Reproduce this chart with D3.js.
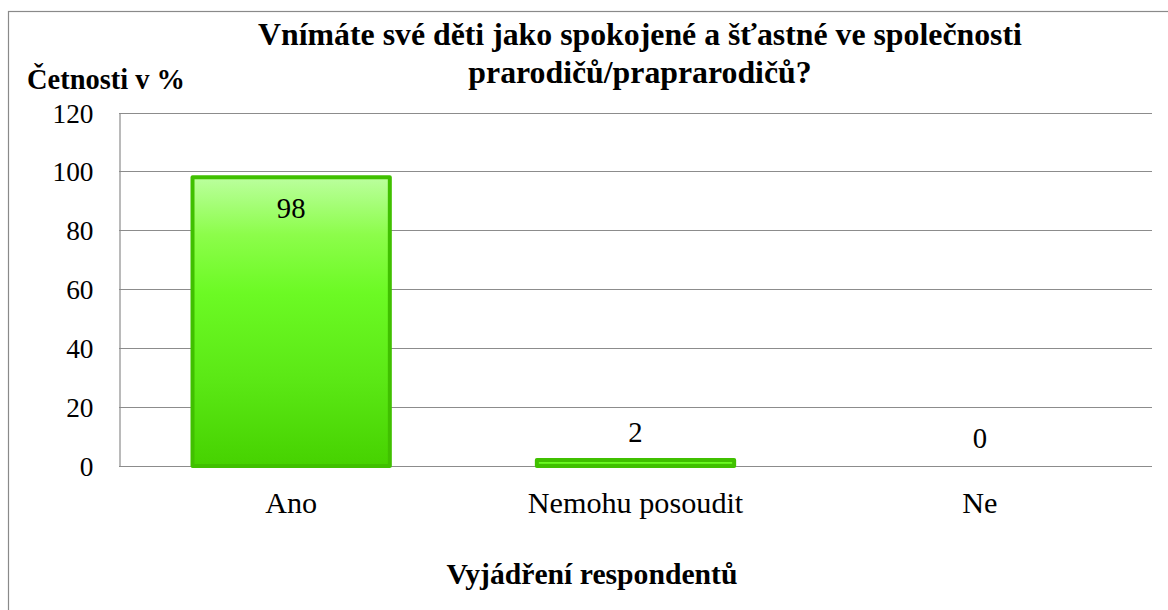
<!DOCTYPE html>
<html><head><meta charset="utf-8">
<script src="https://cdn.jsdelivr.net/npm/d3@7"></script>
<style>
body { margin: 0; }
svg text { font-family: "Liberation Serif", "Times New Roman", serif !important; }
</style>
</head><body>
<script>
const categories = ["Ano", "Nemohu posoudit", "Ne"];
const values = [98, 2, 0];
const yTicks = [0, 20, 40, 60, 80, 100, 120];
const titleLines = ["Vnímáte své děti jako spokojené a šťastné ve společnosti", "prarodičů/praprarodičů?"];
const yTitle = "Četnosti v %";
const xTitle = "Vyjádření respondentů";

const W = 1168, H = 610;
const FF = "Liberation Serif, Times New Roman, serif";
const svg = d3.select("body").append("svg").attr("width", W).attr("height", H).attr("font-family", FF);

function serif(sel) { return sel.attr("font-family", FF).style("font-family", FF, "important"); }

function fit(sel, base, targetW) {
  sel.style("font-size", base + "px");
  const w = sel.node().getComputedTextLength();
  const s = w > 0 ? base * targetW / w : base;
  sel.style("font-size", s.toFixed(2) + "px");
  return s;
}

const defs = svg.append("defs");
const grad = defs.append("linearGradient").attr("id", "barGrad").attr("x1", 0).attr("y1", 0).attr("x2", 0).attr("y2", 1);
[[0, "#bbff9e"], [0.2, "#8cfd4a"], [0.4, "#6cfa24"], [0.7, "#5be815"], [1, "#46d200"]]
  .forEach(([o, c]) => grad.append("stop").attr("offset", o).attr("stop-color", c));

svg.append("rect").attr("x", 8.5).attr("y", 11.5).attr("width", 1180).attr("height", 620)
  .attr("fill", "#fff").attr("stroke", "#8a8a8a").attr("stroke-width", 1.2);

const pLeft = 119, pRight = 1152, pTop = 112.5, pBottom = 466;
const xs = d3.scaleBand().domain(categories).range([pLeft, pRight]).padding(0);
const ys = d3.scaleLinear().domain([0, 120]).range([pBottom, pTop]);

svg.append("g").selectAll("line").data(yTicks).join("line")
  .attr("x1", pLeft).attr("x2", pRight)
  .attr("y1", d => Math.round(ys(d)) + 0.5).attr("y2", d => Math.round(ys(d)) + 0.5)
  .attr("stroke", "#8c8c8c").attr("stroke-width", 1.2);

const ga = svg.append("g").attr("transform", `translate(${pLeft + 0.5},0)`)
  .call(d3.axisLeft(ys).tickValues(yTicks).tickSize(0).tickPadding(26));
ga.attr("font-family", FF);
ga.select(".domain").attr("stroke", "#8c8c8c").attr("stroke-width", 1.2);
const tickTexts = serif(ga.selectAll("text")).attr("fill", "#000").attr("dy", "0.35em");
const tickSize = fit(tickTexts.filter(d => d === 120), 27, 41);
tickTexts.style("font-size", tickSize.toFixed(2) + "px");

const data = values.map((v, i) => ({ c: categories[i], v }));
const bw = xs.bandwidth() * 0.573;
svg.append("g").selectAll("rect").data(data).join("rect")
  .attr("x", d => xs(d.c) + (xs.bandwidth() - bw) / 2)
  .attr("y", d => ys(d.v))
  .attr("width", bw)
  .attr("height", d => ys(0) - ys(d.v))
  .attr("fill", "url(#barGrad)")
  .attr("stroke", d => d.v > 0 ? "#40c000" : "none")
  .attr("stroke-width", 4)
  .attr("stroke-linejoin", "round");

serif(svg.append("g").selectAll("text").data(data).join("text"))
  .attr("x", d => xs(d.c) + xs.bandwidth() / 2)
  .attr("y", d => d.v > 50 ? ys(d.v) + 41 : ys(d.v) - 18)
  .attr("text-anchor", "middle").style("font-size", (tickSize * 1.05).toFixed(2) + "px").attr("fill", "#000")
  .text(d => d.v);

const gx = svg.append("g").attr("transform", `translate(0,${pBottom})`)
  .call(d3.axisBottom(xs).tickSize(0).tickPadding(0));
gx.attr("font-family", FF);
gx.select(".domain").remove();
const catTexts = serif(gx.selectAll("text")).attr("fill", "#000").attr("dy", null).attr("y", 47);
const catSize = fit(catTexts.filter(d => d === "Ano"), 29, 52);
catTexts.style("font-size", catSize.toFixed(2) + "px");

const tl = serif(svg.append("g").selectAll("text").data(titleLines).join("text"))
  .attr("x", 640).attr("y", (d, i) => 45 + i * 38)
  .attr("text-anchor", "middle").style("font-weight", "bold").text(d => d);
const titleSize = fit(tl.filter((d, i) => i === 0), 29, 764);
tl.style("font-size", titleSize.toFixed(2) + "px");

const yt = serif(svg.append("text")).attr("x", 27).attr("y", 89).style("font-weight", "bold").text(yTitle);
fit(yt, 29, 158);
const xt = serif(svg.append("text")).attr("x", 592).attr("y", 584).attr("text-anchor", "middle")
  .style("font-weight", "bold").text(xTitle);
fit(xt, 29, 291);
</script>
</body></html>
